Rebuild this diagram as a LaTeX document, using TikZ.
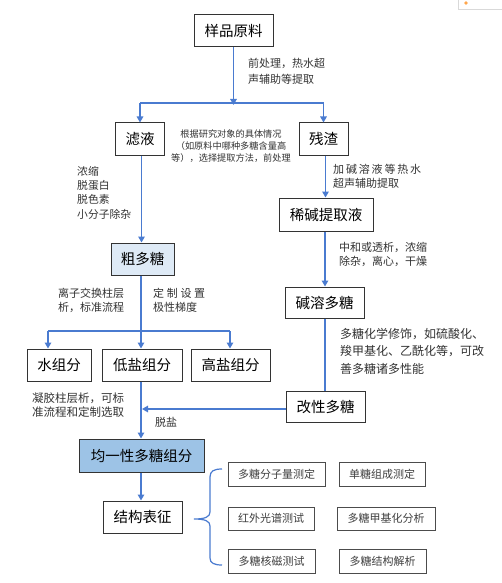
\documentclass[tikz,border=0pt]{standalone}
\usepackage{fontspec}
\setmainfont{Noto Sans CJK SC}
\usetikzlibrary{arrows.meta}
\definecolor{arrblue}{HTML}{4A7BD0}
\definecolor{lightfill}{HTML}{DEEAF6}
\definecolor{midfill}{HTML}{9DC3E6}
\definecolor{labelgray}{HTML}{333333}
\newcommand{\fs}[2]{\fontsize{#1}{#2}\selectfont}
\newcommand{\spreadline}[2]{\makebox[#1][s]{#2}}
\tikzset{
  mainbox/.style={draw=black!80, line width=1pt, inner sep=0pt, font=\fs{14.5}{17}, text=black},
  subbox/.style={draw=black!70, line width=0.9pt, inner sep=0pt, font=\fs{11}{13}, text=black!75},
  conn/.style={draw=arrblue, line width=1.4pt},
  arr/.style={conn, -{Triangle[width=6.5pt,length=6pt]}},
  lbl/.style={inner sep=0pt, anchor=west, align=left, text=labelgray},
}
\begin{document}
\begin{tikzpicture}[x=1pt,y=-1pt]
\useasboundingbox (0,0) rectangle (501,583);
\fill[white] (0,0) rectangle (501,583);
% corner artifact
\draw[black!15, line width=0.6pt] (458,-2) -- (458,9) -- (505,9);
\fill[orange!70] (466,3) circle (1.8pt);

% main boxes
\node[mainbox, minimum width=79pt, minimum height=32pt] (raw) at (233.5,31) {样品原料};
\node[mainbox, minimum width=49pt, minimum height=32pt] (filt) at (140,139) {滤液};
\node[mainbox, minimum width=49pt, minimum height=32pt] (resid) at (323.5,139) {残渣};
\node[mainbox, minimum width=94pt, minimum height=33pt] (alkext) at (326,214.5) {稀碱提取液};
\node[mainbox, fill=lightfill, minimum width=63pt, minimum height=32pt] (crude) at (142.5,259) {粗多糖};
\node[mainbox, minimum width=79pt, minimum height=31pt] (alkpoly) at (324.5,302.5) {碱溶多糖};
\node[mainbox, minimum width=64pt, minimum height=32pt] (water) at (59,365) {水组分};
\node[mainbox, minimum width=80pt, minimum height=32pt] (low) at (142,365) {低盐组分};
\node[mainbox, minimum width=79pt, minimum height=32pt] (high) at (230.5,365) {高盐组分};
\node[mainbox, minimum width=79pt, minimum height=31pt] (mod) at (325.5,406.5) {改性多糖};
\node[mainbox, fill=midfill, minimum width=125pt, minimum height=33pt] (homo) at (141.5,455.5) {均一性多糖组分};
\node[mainbox, minimum width=79pt, minimum height=32pt] (struct) at (142.5,517) {结构表征};

% structure boxes
\node[subbox, minimum width=97pt, minimum height=24pt] (r1) at (276.5,474) {多糖分子量测定};
\node[subbox, minimum width=86pt, minimum height=24pt] (r2) at (382,474) {单糖组成测定};
\node[subbox, minimum width=86pt, minimum height=23pt] (r3) at (271,518.5) {红外光谱测试};
\node[subbox, minimum width=98pt, minimum height=23pt] (r4) at (386,518.5) {多糖甲基化分析};
\node[subbox, minimum width=87pt, minimum height=24pt] (r5) at (271.5,561) {多糖核磁测试};
\node[subbox, minimum width=87pt, minimum height=24pt] (r6) at (382.5,561) {多糖结构解析};

% connectors
\coordinate (split1) at (233.5,103);
\coordinate (splitL) at (140,103);
\coordinate (splitR) at (323.5,103);
\draw[arr] (raw.south) -- ([yshift=-2pt]split1);
\draw[conn] (splitL) -- (splitR);
\draw[arr] (splitL) -- (filt.north);
\draw[arr] (splitR) -- (resid.north);

\draw[arr] (filt.south -| 141.5,0) -- (141.5,0 |- crude.north);
\draw[arr] (325.5,0 |- resid.south) -- (325.5,0 |- alkext.north);
\draw[arr] (325,0 |- alkext.south) -- (325,0 |- alkpoly.north);
\draw[conn] (325,0 |- alkpoly.south) -- (325,0 |- mod.north);

\coordinate (split2) at (141,331);
\coordinate (split2L) at (48,331);
\coordinate (split2R) at (230,331);
\draw[arr] (141,0 |- crude.south) -- (141,0 |- low.north);
\draw[conn] (split2L) -- (split2R);
\draw[arr] (split2L) -- (48,0 |- water.north);
\draw[arr] (split2R) -- (230,0 |- high.north);

\draw[arr] (141,0 |- low.south) -- (141,0 |- homo.north);
\draw[arr] (mod.west |- 0,409) -- (142,409);
\draw[arr] (141,0 |- homo.south) -- (141,0 |- struct.north);

% brace
\coordinate (bracetip) at (194,519);
\draw[conn, line width=1.2pt] (222,469) .. controls (214,469) and (210,471) .. (210,477) -- (210,512)
  .. controls (210,517) and (205,519) .. (bracetip)
  .. controls (205,519) and (210,521) .. (210,526) -- (210,558)
  .. controls (210,563) and (214,565) .. (222,565);

% labels
\node[lbl, font=\fs{11}{16}] (l1) at (248,71) {前处理，热水超\\声辅助等提取};
\node[lbl, anchor=center, align=center, font=\fs{9.2}{12}] (l2) at (231,146) {根据研究对象的具体情况\\（如原料中哪种多糖含量高\\等），选择提取方法，前处理};
\node[lbl, font=\fs{10.8}{14.3}] (l3) at (77,192.5) {浓缩\\脱蛋白\\脱色素\\小分子除杂};
\node[lbl, font=\fs{11}{14}] (l4) at (333,176) {\spreadline{88pt}{加\hfil 碱\hfil 溶\hfil 液\hfil 等\hfil 热\hfil 水}\\超声辅助提取};
\node[lbl, font=\fs{11}{14}] (l5) at (339,254) {中和或透析，浓缩\\除杂，离心，干燥};
\node[lbl, font=\fs{11}{14}] (l6) at (58,300) {离子交换柱层\\析，标准流程};
\node[lbl, font=\fs{11}{14}] (l7) at (153,300) {\spreadline{52pt}{定\hfil 制\hfil 设\hfil 置}\\极性梯度};
\node[lbl, font=\fs{12}{17.5}] (l8) at (340,351) {多糖化学修饰，如硫酸化、\\羧甲基化、乙酰化等，可改\\善多糖诸多性能};
\node[lbl, font=\fs{11.5}{14}] (l9) at (32,405) {凝胶柱层析，可标\\准流程和定制选取};
\node[lbl, font=\fs{11}{13}] (l10) at (155,422) {脱盐};
\end{tikzpicture}
\end{document}
